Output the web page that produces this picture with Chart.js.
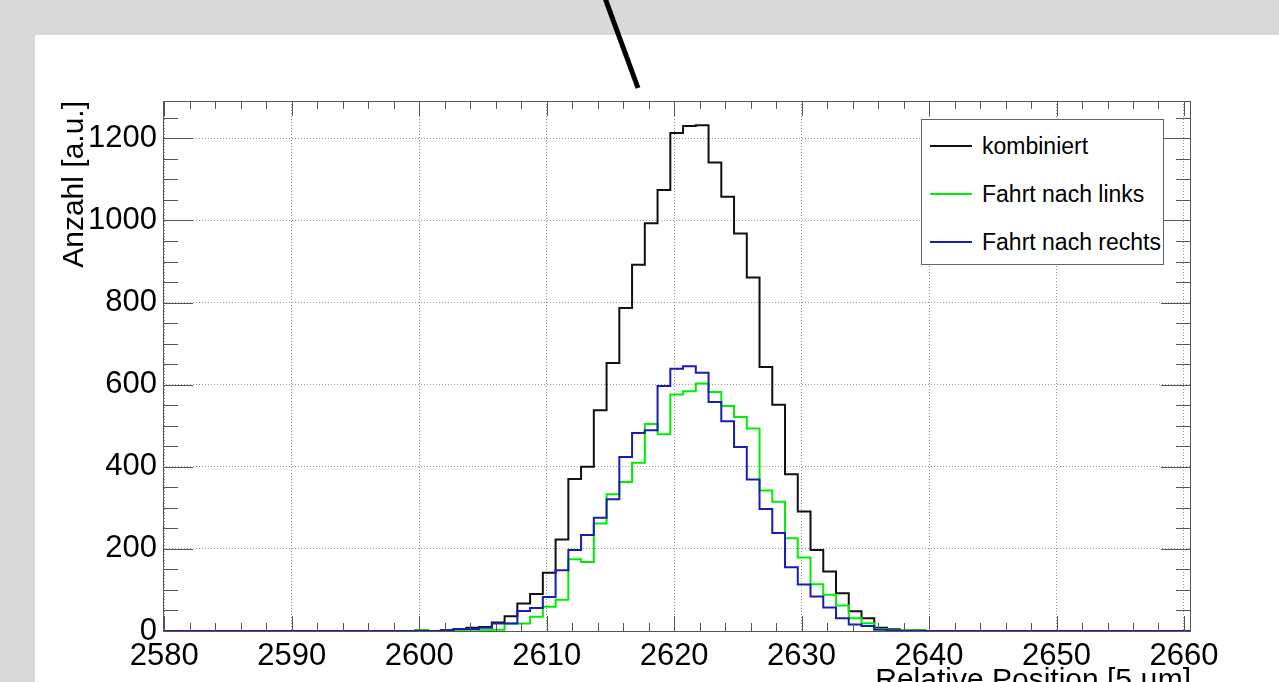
<!DOCTYPE html>
<html>
<head>
<meta charset="utf-8">
<script src="https://cdn.jsdelivr.net/npm/chart.js@4.4.1/dist/chart.umd.min.js"></script>
<style>
  html, body { margin: 0; padding: 0; width: 1279px; height: 682px; overflow: hidden; background: #d9d9d9; }
  #pad { position: absolute; left: 35px; top: 35px; right: 0; bottom: 0; background: #fff; }
  #chart { position: absolute; left: 0; top: 0; }
  #legend {
    position: absolute; left: 921px; top: 119px; width: 241px; height: 144px;
    border: 1px solid #666; background: #fff;
    font-family: "Liberation Sans", Arial, Helvetica, sans-serif; font-size: 23px; color: #000;
  }
  .entry { position: absolute; left: 0; height: 30px; line-height: 30px; white-space: nowrap; }
  .entry .swatch { position: absolute; left: 8px; top: 14px; width: 42px; height: 2px; }
  .entry .label { position: absolute; left: 60px; top: 0; }
</style>
</head>
<body>
<div id="pad"></div>
<canvas id="chart" width="1279" height="682"></canvas>
<div id="legend"></div>
<script>
// lower edges of the 1-unit bins (everything outside is empty)
const binLow = [2599.7, 2600.7, 2601.7, 2602.7, 2603.7, 2604.7, 2605.7, 2606.7, 2607.7, 2608.7,
  2609.7, 2610.7, 2611.7, 2612.7, 2613.7, 2614.7, 2615.7, 2616.7, 2617.7, 2618.7,
  2619.7, 2620.7, 2621.7, 2622.7, 2623.7, 2624.7, 2625.7, 2626.7, 2627.7, 2628.7,
  2629.7, 2630.7, 2631.7, 2632.7, 2633.7, 2634.7, 2635.7, 2636.7, 2637.7, 2638.7, 2639.7];

const kombiniert = [2, 0, 2, 5, 8, 10, 21, 36, 67, 90,
  142, 223, 370, 400, 538, 653, 787, 892, 993, 1074,
  1213, 1230, 1232, 1141, 1058, 968, 861, 643, 551, 382,
  291, 197, 145, 92, 48, 31, 8, 4, 1, 2, 0];

const nachLinks = [2, 0, 0, 0, 3, 2, 3, 18, 18, 35,
  59, 76, 175, 168, 262, 333, 363, 410, 504, 479,
  576, 584, 603, 582, 548, 521, 493, 342, 315, 226,
  179, 114, 88, 62, 31, 19, 5, 2, 1, 2, 0];

const nachRechts = [0, 0, 2, 5, 5, 8, 18, 18, 49, 56,
  83, 148, 197, 234, 276, 321, 424, 482, 489, 597,
  639, 645, 629, 558, 511, 448, 369, 297, 239, 155,
  113, 84, 57, 31, 16, 12, 3, 1, 0, 0, 0];

const xTicks = [2580, 2590, 2600, 2610, 2620, 2630, 2640, 2650, 2660];
const yTicks = [0, 200, 400, 600, 800, 1000, 1200];

const xMin = 2579.9, xMax = 2660.55;
const yMin = 0, yMax = 1291;
const FONT = '"Liberation Sans", Arial, Helvetica, sans-serif';

// histogram as stepped line: flat zero from axis start, one point per bin edge
const histPoints = (vals) => [
  { x: xMin, y: 0 },
  ...binLow.map((x, i) => ({ x: x, y: vals[i] })),
  { x: xMax, y: 0 },
];

// ROOT-like frame, inward ticks on all four sides, axis titles, the pen stroke on top
const rootFrame = {
  id: "rootFrame",
  afterDraw(chart) {
    const { ctx, chartArea: a, scales } = chart;
    const xs = scales.x, ys = scales.y;
    ctx.save();
    ctx.strokeStyle = "#555";
    ctx.lineWidth = 1;
    ctx.beginPath();
    for (let v = 2580; v <= 2660; v += 2) {
      const px = Math.round(xs.getPixelForValue(v)) + 0.5;
      const len = v % 10 === 0 ? 15 : 8;
      ctx.moveTo(px, a.bottom); ctx.lineTo(px, a.bottom - len);
      ctx.moveTo(px, a.top); ctx.lineTo(px, a.top + len);
    }
    for (let v = 0; v <= yMax; v += 50) {
      const py = Math.round(ys.getPixelForValue(v)) + 0.5;
      const len = v % 200 === 0 ? 30 : 15;
      ctx.moveTo(a.left, py); ctx.lineTo(a.left + len, py);
      ctx.moveTo(a.right, py); ctx.lineTo(a.right - len, py);
    }
    ctx.stroke();
    ctx.strokeRect(a.left + 0.5, a.top + 0.5, a.right - a.left - 1, a.bottom - a.top);

    ctx.fillStyle = "#000";
    ctx.font = "30px " + FONT;
    ctx.textAlign = "right";
    ctx.textBaseline = "alphabetic";
    ctx.fillText("Relative Position [5 \u00b5m]", a.right, 689);
    ctx.translate(83, a.top);
    ctx.rotate(-Math.PI / 2);
    ctx.fillText("Anzahl [a.u.]", 0, 0);
    ctx.restore();

    ctx.save();
    ctx.strokeStyle = "#000";
    ctx.lineWidth = 5;
    ctx.beginPath();
    ctx.moveTo(605, -2);
    ctx.lineTo(638, 88);
    ctx.stroke();
    ctx.restore();
  },
};

const chart = new Chart(document.getElementById("chart"), {
  type: "line",
  data: {
    datasets: [
      { label: "kombiniert", data: histPoints(kombiniert), borderColor: "#111", order: 3 },
      { label: "Fahrt nach links", data: histPoints(nachLinks), borderColor: "#00ee00", order: 2 },
      { label: "Fahrt nach rechts", data: histPoints(nachRechts), borderColor: "#1c1cb4", order: 1 },
    ],
  },
  options: {
    responsive: false,
    animation: false,
    devicePixelRatio: 1,
    layout: { padding: { left: 0, top: 101, right: 88, bottom: 0 } },
    elements: {
      line: { stepped: true, borderWidth: 2, tension: 0, fill: false },
      point: { radius: 0, hoverRadius: 0 },
    },
    plugins: { legend: { display: false }, tooltip: { enabled: false } },
    scales: {
      x: {
        type: "linear",
        min: xMin,
        max: xMax,
        afterFit: (s) => { s.height = 51; },
        afterBuildTicks: (s) => { s.ticks = xTicks.map((v) => ({ value: v })); },
        grid: { color: "#999", drawTicks: false, lineWidth: 1 },
        border: { display: false, dash: [1, 2] },
        ticks: {
          color: "#000", padding: 7, maxRotation: 0, autoSkip: false,
          font: { family: FONT, size: 31 },
          callback: (v) => String(v),
        },
      },
      y: {
        type: "linear",
        min: yMin,
        max: yMax,
        afterFit: (s) => { s.width = 163; },
        afterBuildTicks: (s) => { s.ticks = yTicks.map((v) => ({ value: v })); },
        grid: { color: "#999", drawTicks: false, lineWidth: 1 },
        border: { display: false, dash: [1, 2] },
        ticks: {
          color: "#000", padding: 6, autoSkip: false,
          font: { family: FONT, size: 31 },
          callback: (v) => String(v),
        },
      },
    },
  },
  plugins: [rootFrame],
});

// legend box in ROOT style, built from the datasets
const legend = document.getElementById("legend");
const rowTops = [11, 59, 107];
chart.data.datasets.forEach((ds, i) => {
  const row = document.createElement("div");
  row.className = "entry";
  row.style.top = rowTops[i] + "px";
  row.innerHTML = '<span class="swatch" style="background:' + ds.borderColor + '"></span>' +
    '<span class="label">' + ds.label + "</span>";
  legend.appendChild(row);
});
</script>
</body>
</html>
